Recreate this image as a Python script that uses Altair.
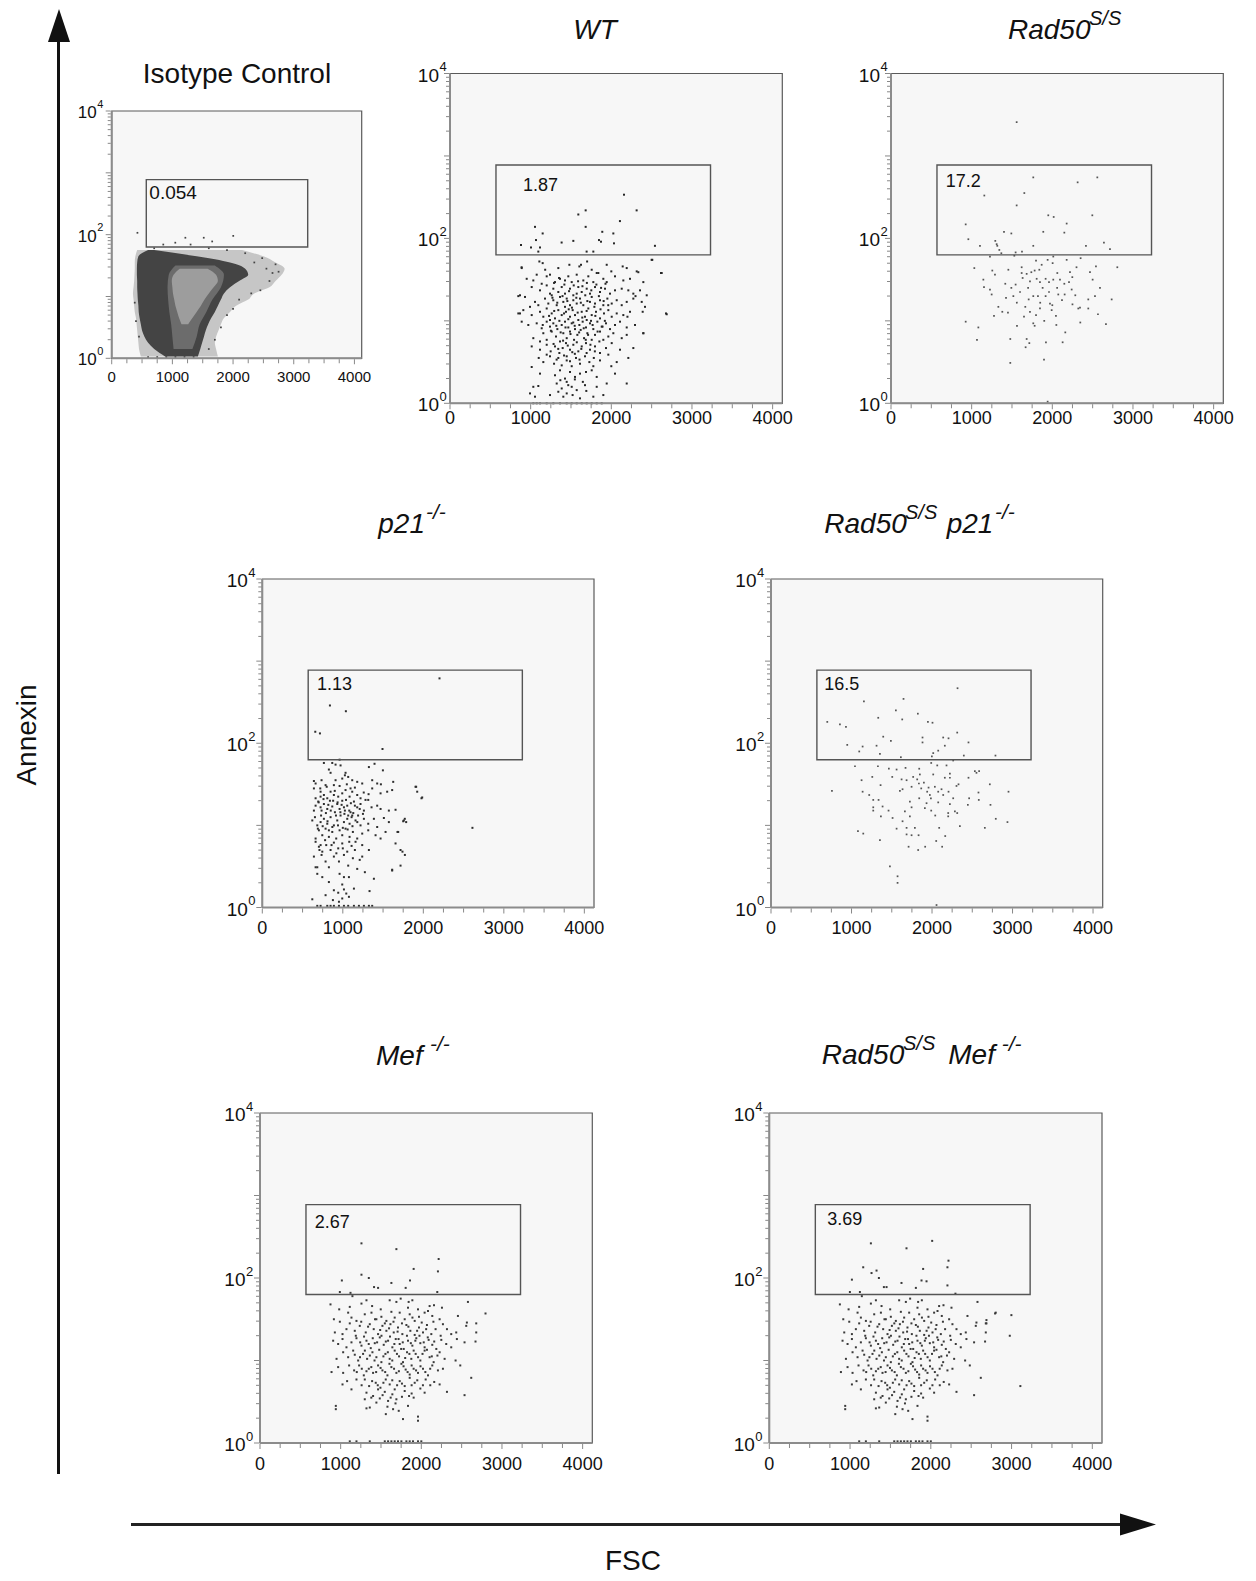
import math
import altair as alt
import pandas as pd

W, H = 1256, 1581
FONT = "Liberation Sans"
XMAX = 4120

# ---------------- axis / tick values ----------------
X_TICKS = [0, 1000, 2000, 3000, 4000]
X_TICK_LABELS = ["0", "1000", "2000", "3000", "4000"]
X_MINOR = [250, 500, 750, 1250, 1500, 1750, 2250, 2500, 2750, 3250, 3500, 3750]
Y_DECADES = [0, 1, 2, 3, 4]
Y_MINOR_VALUES = [k * 10 ** d for d in range(4) for k in range(2, 10)]
Y_LABEL_POS = [0, 2, 4]
Y_LABEL_BASE = ["10", "10", "10"]
Y_LABEL_EXP = ["0", "2", "4"]

# gate (FSC range, log10 Annexin range)
GATE_FSC = [570, 3230]
GATE_LOG = [1.80, 2.89]

# ---------------- texts ----------------
GATE_LABELS = {"iso": "0.054", "wt": "1.87", "r50": "17.2", "p21": "1.13",
               "r50p21": "16.5", "mef": "2.67", "r50mef": "3.69"}
GATE_LABEL_POS = {"iso": (620, 2.67), "wt": (905, 2.63), "r50": (680, 2.68),
                  "p21": (680, 2.71), "r50p21": (661, 2.71), "mef": (680, 2.67),
                  "r50mef": (718, 2.70)}
AXIS_Y_TITLE = "Annexin"
AXIS_X_TITLE = "FSC"

# ---------------- Isotype control density (rows of log10 Annexin) ----------------
ISO_LOG = [0.03, 0.15, 0.25, 0.35, 0.45, 0.55, 0.65, 0.75, 0.85, 0.95, 1.05, 1.15, 1.25, 1.35, 1.45, 1.55, 1.65, 1.75]
ISO_FRINGE_LO = [480, 450, 440, 430, 420, 410, 400, 380, 370, 360, 350, 360, 370, 375, 380, 380, 390, 420]
ISO_FRINGE_HI = [1750, 1720, 1700, 1720, 1760, 1800, 1850, 1950, 2050, 2250, 2350, 2600, 2700, 2800, 2850, 2700, 2500, 2150]
ISO_BODY_LO = [880, 700, 600, 540, 500, 480, 460, 445, 440, 430, 425, 420, 420, 415, 415, 420, 440, 600]
ISO_BODY_HI = [1420, 1460, 1490, 1520, 1550, 1590, 1640, 1700, 1750, 1800, 1850, 1950, 2100, 2250, 2200, 1950, 1400, 700]
ISO_MID_LOG = [0.15, 0.35, 0.55, 0.75, 0.95, 1.15, 1.35, 1.50]
ISO_MID_LO = [1020, 1000, 980, 950, 930, 920, 940, 1050]
ISO_MID_HI = [1330, 1400, 1450, 1560, 1660, 1800, 1850, 1700]
ISO_CORE_LOG = [0.55, 0.65, 0.75, 0.85, 0.95, 1.05, 1.15, 1.25, 1.35, 1.45]
ISO_CORE_LO = [1150, 1110, 1080, 1050, 1030, 1010, 1000, 990, 1020, 1120]
ISO_CORE_HI = [1260, 1330, 1400, 1470, 1530, 1600, 1680, 1750, 1720, 1580]
ISO_PTS = [(424, 2.03), (1214, 1.95), (1517, 1.95), (1656, 1.89), (2003, 1.98), (1048, 1.87),
           (850, 1.84), (1300, 1.84), (2550, 1.45), (2650, 1.38), (2750, 1.40), (2600, 1.25),
           (2450, 1.10), (2700, 1.52), (2300, 1.05), (380, 0.90), (400, 0.60), (450, 0.35),
           (1600, 0.15), (1700, 0.30), (1800, 0.50), (1900, 0.70), (2000, 0.80), (2100, 0.95),
           (600, 0.02), (750, 0.02), (900, 0.02), (1050, 0.02), (1200, 0.02), (1350, 0.02),
           (2350, 1.55), (2480, 1.62), (2200, 1.70), (1900, 1.75), (1600, 1.78), (700, 1.78)]

# ---------------- events (FSC, log10 Annexin) ----------------
WT_PTS = [
    (2157, 2.53), (2314, 2.34), (1682, 2.34), (1591, 2.29), (2107, 2.21), (1682, 2.14), (1054, 2.14),
    (1149, 2.06), (1888, 2.08), (2025, 2.06), (1384, 1.95), (1529, 1.97), (1066, 1.98), (1847, 1.98),
    (1872, 1.96), (880, 1.92), (1004, 1.89), (1116, 1.89), (1095, 1.84), (2033, 1.94), (2541, 1.91),
    (1777, 1.84), (1694, 1.84),
    (2508, 1.74), (2616, 1.58), (2678, 1.09), (2397, 0.85), (847, 1.30), (868, 1.09), (888, 1.65),
    (1108, 1.72), (1149, 1.70), (1343, 1.64), (1604, 1.66), (1624, 1.68), (1757, 1.62), (1819, 1.58),
    (1943, 1.68), (2141, 1.66), (2191, 1.64), (2315, 1.60), (2500, 1.74), (2625, 1.58), (889, 1.64),
    (1033, 1.49), (1075, 1.56), (1199, 1.54), (1240, 1.56), (1302, 1.47), (1364, 1.51), (1426, 1.49),
    (1467, 1.54), (1509, 1.47), (1571, 1.56), (1653, 1.49), (1715, 1.54), (1777, 1.47), (1839, 1.58),
    (1901, 1.51), (1943, 1.47), (2046, 1.54), (2149, 1.49), (2232, 1.51), (2335, 1.59), (2397, 1.47),
    (951, 1.51), (1137, 1.45),
    (868, 1.31), (1013, 1.41), (1116, 1.37), (1199, 1.43), (1240, 1.33), (1281, 1.39), (1343, 1.35),
    (1385, 1.41), (1426, 1.33), (1488, 1.39), (1529, 1.31), (1591, 1.41), (1633, 1.35), (1695, 1.39),
    (1736, 1.33), (1798, 1.41), (1860, 1.35), (1922, 1.39), (1984, 1.33), (2046, 1.37), (2129, 1.39),
    (2211, 1.37), (2273, 1.33), (2356, 1.37), (2439, 1.31), (1261, 1.31), (1571, 1.33),
    (930, 1.29), (1054, 1.23), (1095, 1.19), (1178, 1.27), (1219, 1.21), (1281, 1.25), (1323, 1.19),
    (1364, 1.29), (1405, 1.23), (1447, 1.27), (1488, 1.19), (1529, 1.25), (1571, 1.21), (1612, 1.27),
    (1653, 1.19), (1703, 1.24), (1757, 1.29), (1798, 1.21), (1860, 1.25), (1901, 1.19), (1951, 1.27),
    (2005, 1.21), (2067, 1.25), (2129, 1.19), (2191, 1.23), (2273, 1.27), (2377, 1.23), (2418, 1.17),
    (992, 1.17), (1426, 1.17),
    (847, 1.09), (909, 1.13), (1013, 1.07), (1116, 1.11), (1157, 1.05), (1199, 1.15), (1261, 1.09),
    (1302, 1.03), (1343, 1.13), (1385, 1.07), (1438, 1.11), (1467, 1.02), (1488, 1.05), (1521, 1.13),
    (1550, 1.07), (1591, 1.01), (1633, 1.11), (1674, 1.05), (1715, 1.15), (1757, 1.07), (1810, 1.11),
    (1860, 1.03), (1909, 1.09), (1963, 1.13), (2005, 1.05), (2067, 1.09), (2149, 1.07), (2232, 1.11),
    (2389, 1.11), (2687, 1.08), (1240, 1.01), (1695, 1.01),
    (889, 0.99), (971, 0.95), (1075, 0.97), (1137, 0.91), (1199, 0.99), (1240, 0.93), (1281, 0.97),
    (1331, 0.90), (1385, 0.95), (1426, 0.99), (1467, 0.92), (1509, 0.97), (1550, 0.90), (1604, 0.95),
    (1645, 0.99), (1686, 0.92), (1736, 0.97), (1777, 0.90), (1827, 0.99), (1881, 0.93), (1934, 0.97),
    (1984, 0.90), (2046, 0.95), (2108, 0.99), (2191, 0.92), (2294, 0.95),
    (1033, 0.79), (1157, 0.85), (1199, 0.77), (1261, 0.87), (1314, 0.81), (1364, 0.75), (1405, 0.85),
    (1447, 0.79), (1488, 0.87), (1538, 0.77), (1579, 0.83), (1620, 0.89), (1662, 0.79), (1703, 0.85),
    (1757, 0.77), (1798, 0.83), (1860, 0.87), (1901, 0.77), (1963, 0.81), (2025, 0.85), (2129, 0.79),
    (2191, 0.83), (2273, 0.67), (2397, 0.85), (1116, 0.75),
    (1013, 0.69), (1116, 0.65), (1199, 0.71), (1248, 0.63), (1302, 0.69), (1356, 0.61), (1397, 0.67),
    (1438, 0.73), (1488, 0.65), (1529, 0.71), (1591, 0.63), (1633, 0.69), (1686, 0.73), (1736, 0.65),
    (1798, 0.69), (1860, 0.61), (1934, 0.67), (2005, 0.73), (2108, 0.65), (1199, 0.59), (1447, 0.57),
    (1013, 0.44), (1157, 0.50), (1240, 0.57), (1290, 0.48), (1343, 0.55), (1385, 0.46), (1447, 0.52),
    (1509, 0.45), (1562, 0.55), (1612, 0.48), (1674, 0.57), (1728, 0.50), (1777, 0.45), (1860, 0.52),
    (1963, 0.59), (2067, 0.50), (2211, 0.55),
    (1116, 0.36), (1302, 0.34), (1364, 0.40), (1426, 0.30), (1488, 0.38), (1550, 0.32), (1612, 0.36),
    (1686, 0.38), (1757, 0.40), (1819, 0.32), (2046, 0.36), (2191, 0.24),
    (1033, 0.20), (1095, 0.21), (1323, 0.24), (1343, 0.14), (1385, 0.18), (1447, 0.26), (1509, 0.20),
    (1571, 0.16), (1674, 0.22), (1819, 0.20), (1943, 0.24), (992, 0.12),
    (1054, 0.08), (1240, 0.10), (1405, 0.08), (1447, 0.12), (1612, 0.06), (1777, 0.08), (1901, 0.10),
    (1033, 0.0), (1075, 0.0), (1116, 0.0), (1199, 0.0), (1281, 0.0), (1364, 0.0), (1447, 0.0),
    (1509, 0.0), (1571, 0.0), (1633, 0.0), (1695, 0.0), (1757, 0.0), (1819, 0.0), (1881, 0.0),
]
WT_CORE_PTS = [
    (1290, 1.46), (1352, 1.52), (1418, 1.44), (1476, 1.36), (1534, 1.43), (1588, 1.48), (1642, 1.42),
    (1697, 1.46), (1752, 1.37), (1815, 1.44), (1873, 1.40), (1928, 1.45),
    (1270, 1.28), (1330, 1.22), (1395, 1.30), (1455, 1.24), (1512, 1.16), (1566, 1.28), (1622, 1.22),
    (1677, 1.31), (1735, 1.23), (1790, 1.17), (1846, 1.30), (1905, 1.24), (1962, 1.19),
    (1228, 1.06), (1292, 1.12), (1356, 1.00), (1414, 1.09), (1472, 1.14), (1528, 0.98), (1583, 1.10),
    (1640, 1.04), (1694, 1.12), (1748, 1.00), (1802, 1.06), (1866, 1.14), (1920, 1.00),
    (1251, 0.88), (1318, 0.94), (1372, 0.86), (1432, 0.92), (1494, 0.84), (1546, 0.94), (1601, 0.86),
    (1658, 0.91), (1712, 0.83), (1768, 0.95), (1830, 0.87), (1891, 0.93),
    (1284, 0.72), (1342, 0.66), (1402, 0.76), (1460, 0.70), (1516, 0.62), (1572, 0.74), (1628, 0.66),
    (1683, 0.77), (1741, 0.71), (1796, 0.63), (1852, 0.75),
    (1322, 0.53), (1414, 0.58), (1488, 0.51), (1548, 0.60), (1606, 0.53), (1694, 0.61), (1783, 0.55),
    (1368, 0.28), (1466, 0.22), (1548, 0.29), (1647, 0.26), (1520, 0.10), (1690, 0.15),
    (1180, 1.62), (1480, 1.68), (1700, 1.72), (2000, 1.60), (1150, 0.95), (2200, 1.05), (2300, 1.30),
    (1100, 0.55), (2000, 0.45),
]

RAD50_PTS = [
    (1558, 3.41), (1764, 2.74), (2558, 2.74), (2314, 2.68), (1157, 2.52), (1653, 2.55), (1558, 2.40),
    (1950, 2.28), (2017, 2.26), (2496, 2.28), (926, 2.17), (2178, 2.18), (1888, 2.08), (2149, 2.07),
    (1401, 2.08), (1492, 2.06), (959, 1.99), (1103, 1.91), (1318, 1.91), (1343, 1.86), (1368, 1.82),
    (1545, 1.83), (1624, 1.84), (1764, 1.91), (2417, 1.91), (2640, 1.95), (2715, 1.87), (1293, 1.97),
    (1310, 1.93),
    (1227, 1.78), (1529, 1.79), (2012, 1.78), (1942, 1.74), (2004, 1.70), (2178, 1.74), (2351, 1.76),
    (1798, 1.73), (1033, 1.64), (1256, 1.61), (1289, 1.56), (1455, 1.62), (1145, 1.50), (1153, 1.41),
    (1227, 1.38), (1248, 1.32), (1417, 1.45), (1492, 1.40), (1545, 1.44), (1517, 1.30), (1426, 1.28),
    (1620, 1.58), (1632, 1.52), (1682, 1.57), (1740, 1.59), (1781, 1.61), (1839, 1.62), (1868, 1.68),
    (1723, 1.48), (1806, 1.51), (1847, 1.47), (1917, 1.51), (1959, 1.47), (2012, 1.50), (2062, 1.58),
    (2095, 1.50), (2149, 1.45), (2219, 1.59), (2248, 1.53), (2207, 1.47), (2240, 1.38), (2285, 1.31),
    (2153, 1.32), (2074, 1.32), (1959, 1.35), (1917, 1.30), (1971, 1.21), (2000, 1.19), (1992, 1.13),
    (2045, 1.06), (1822, 1.30), (1764, 1.30), (1707, 1.26), (1665, 1.17), (1649, 1.05), (1723, 1.11),
    (1798, 1.07), (1847, 1.15), (1331, 1.17), (1380, 1.11), (1277, 1.06), (1562, 0.94), (926, 0.99),
    (1083, 0.92), (1066, 0.77), (1479, 0.78), (1682, 0.78), (1715, 0.73), (1669, 0.68), (1764, 0.97),
    (1781, 0.94), (1921, 0.74), (2128, 0.74), (2161, 0.86), (2347, 0.98), (2343, 1.16), (2322, 1.15),
    (2446, 1.15), (2446, 1.26), (2529, 1.30), (2566, 1.08), (2736, 1.26), (2665, 0.96), (2591, 1.40),
    (2500, 1.50), (2467, 1.59), (2541, 1.66), (2806, 1.65), (1897, 0.53), (1479, 0.49), (1942, 0.02),
    (1600, 1.35), (1700, 1.40), (1880, 1.40), (2060, 1.40), (1850, 1.22), (1560, 1.22), (2120, 1.25),
    (2250, 1.20), (1450, 1.10), (1900, 1.00), (2050, 0.95), (1620, 1.65), (2300, 1.65),
]

P21_PTS = [
    (2201, 2.79), (840, 2.46), (1038, 2.39), (658, 2.14), (716, 2.12), (1493, 1.93), (960, 1.80),
    (2610, 0.97), (1986, 1.34), (1903, 1.47), (1750, 1.05), (1770, 1.08), (1717, 0.51), (1613, 0.46),
    (1741, 0.68), (1679, 0.92),
    (765, 1.76), (869, 1.76), (910, 1.74), (972, 1.73), (827, 1.68), (848, 1.64), (1034, 1.64),
    (1324, 1.71), (1394, 1.75), (1498, 1.67),
    (641, 1.54), (662, 1.51), (736, 1.55), (910, 1.55), (993, 1.57), (1026, 1.61), (1067, 1.59),
    (1117, 1.55), (1179, 1.53), (1241, 1.51), (1365, 1.55), (1427, 1.51), (1473, 1.50), (1626, 1.53),
    (1096, 1.45), (889, 1.49), (786, 1.49),
    (641, 1.45), (724, 1.41), (765, 1.37), (807, 1.33), (848, 1.41), (889, 1.37), (943, 1.35),
    (993, 1.39), (1034, 1.43), (1084, 1.35), (1117, 1.41), (1179, 1.37), (1220, 1.33), (1282, 1.31),
    (662, 1.33), (724, 1.35), (1469, 1.39), (1551, 1.41), (1613, 1.43), (1911, 1.47), (1924, 1.41),
    (1977, 1.33), (1365, 1.45),
    (641, 1.18), (662, 1.24), (695, 1.29), (736, 1.18), (765, 1.26), (807, 1.20), (840, 1.30),
    (869, 1.23), (902, 1.16), (931, 1.26), (960, 1.20), (993, 1.30), (1026, 1.18), (1055, 1.24),
    (1096, 1.16), (1138, 1.29), (1179, 1.22), (1220, 1.26), (1262, 1.18), (1316, 1.31), (1357, 1.22),
    (1427, 1.24), (1469, 1.20), (1572, 1.18), (1655, 1.19), (724, 1.22), (1014, 1.22), (1067, 1.12),
    (1109, 1.10),
    (621, 1.06), (654, 1.10), (683, 1.00), (724, 1.04), (765, 1.08), (807, 1.02), (848, 1.10),
    (889, 1.00), (931, 1.06), (972, 1.12), (1014, 1.04), (1055, 1.08), (1084, 1.02), (1117, 1.12),
    (1158, 1.06), (1220, 1.00), (1262, 1.08), (1316, 1.02), (1386, 1.08), (1510, 1.09), (1572, 1.04),
    (1758, 1.06), (1787, 1.04), (1427, 0.98),
    (662, 0.84), (703, 0.94), (745, 0.88), (786, 0.96), (827, 0.86), (869, 0.92), (918, 0.84),
    (960, 0.94), (993, 0.88), (1034, 0.96), (1084, 0.86), (1125, 0.92), (1179, 0.84), (1241, 0.90),
    (1316, 0.94), (1407, 0.88), (1469, 0.84), (1531, 0.92), (1688, 0.92), (827, 0.94),
    (662, 0.80), (703, 0.74), (745, 0.68), (794, 0.76), (848, 0.70), (889, 0.79), (943, 0.72),
    (993, 0.78), (1055, 0.68), (1109, 0.75), (1158, 0.80), (1241, 0.76), (1324, 0.70), (1655, 0.78),
    (1717, 0.70), (724, 0.76),
    (641, 0.62), (683, 0.49), (736, 0.64), (786, 0.56), (827, 0.49), (889, 0.62), (952, 0.56),
    (1014, 0.64), (1067, 0.51), (1125, 0.60), (1179, 0.47), (1241, 0.62), (1613, 0.45), (1771, 0.64),
    (662, 0.49),
    (683, 0.41), (745, 0.37), (827, 0.31), (960, 0.41), (1014, 0.37), (993, 0.28), (1076, 0.37),
    (1274, 0.43), (1386, 0.35),
    (889, 0.21), (943, 0.18), (1014, 0.22), (1043, 0.17), (1076, 0.13), (993, 0.11), (1138, 0.23),
    (786, 0.15), (621, 0.10), (1332, 0.20), (877, 0.09), (952, 0.07),
    (683, 0.02), (724, 0.02), (807, 0.02), (848, 0.02), (889, 0.02), (952, 0.02), (1014, 0.02),
    (1067, 0.02), (1138, 0.02), (1200, 0.02), (1262, 0.02), (1324, 0.02), (1365, 0.02),
]
P21_CORE_PTS = [
    (700, 1.28), (760, 1.32), (820, 1.25), (880, 1.30), (935, 1.28), (985, 1.25), (1040, 1.31),
    (1100, 1.27), (1150, 1.24), (1210, 1.20),
    (730, 1.12), (790, 1.15), (850, 1.18), (915, 1.12), (970, 1.16), (1020, 1.14), (1080, 1.18),
    (1130, 1.15), (1190, 1.12), (1250, 1.14),
    (690, 0.96), (750, 0.99), (810, 1.05), (870, 0.98), (940, 1.00), (1000, 0.97), (1060, 0.95),
    (1120, 0.99), (1180, 1.04),
    (710, 0.70), (780, 0.82), (860, 0.76), (920, 0.66), (1000, 0.72), (1080, 0.80), (1150, 0.70),
    (1210, 0.58),
    (720, 1.45), (800, 1.47), (900, 1.42), (960, 1.48), (1050, 1.50), (1150, 1.46), (1260, 1.40),
    (1320, 1.38),
]

RAD50_P21_PTS = [
    (2317, 2.67), (1646, 2.54), (1154, 2.51), (1551, 2.40), (1824, 2.36), (1332, 2.31), (1630, 2.29),
    (699, 2.26), (1949, 2.26), (2006, 2.25), (856, 2.23), (931, 2.20), (2313, 2.13), (1394, 2.08),
    (1489, 2.03), (1882, 2.07), (1882, 2.01), (2139, 2.07), (2205, 2.06), (2159, 1.97), (2453, 2.01),
    (947, 1.98), (1138, 1.96), (1096, 1.90), (1311, 1.97), (1353, 1.87), (1613, 1.83), (2015, 1.88),
    (1998, 1.84), (2077, 1.91), (2395, 1.85), (2788, 1.85),
    (2263, 1.79), (1990, 1.76), (2065, 1.73), (2180, 1.73), (1043, 1.72), (1328, 1.72), (1671, 1.70),
    (1841, 1.69), (1464, 1.69), (1560, 1.68), (2552, 1.64), (2585, 1.66), (2532, 1.66), (2453, 1.58),
    (2329, 1.50), (2222, 1.63), (2159, 1.58), (2015, 1.62), (1849, 1.62), (1766, 1.59), (1684, 1.55),
    (1622, 1.56), (1506, 1.59), (1361, 1.49), (1258, 1.59), (1125, 1.55), (1138, 1.41), (757, 1.42),
    (1220, 1.37), (1270, 1.31), (1270, 1.22), (1270, 1.18), (1336, 1.31), (1386, 1.23), (1460, 1.18),
    (1365, 1.11), (1510, 1.09), (1601, 1.42), (1634, 1.44), (1746, 1.47), (1837, 1.51), (1866, 1.45),
    (1899, 1.52), (1957, 1.46), (1940, 1.41), (1973, 1.37), (1986, 1.33), (2035, 1.47), (2077, 1.41),
    (2118, 1.44), (2139, 1.37), (2205, 1.41), (2263, 1.33), (2222, 1.26), (2077, 1.28), (1932, 1.27),
    (1725, 1.29), (1746, 1.22), (1663, 1.17), (1725, 1.11), (1634, 1.05), (1787, 0.97), (1684, 0.97),
    (1746, 0.88), (1684, 0.89), (1833, 0.88), (1915, 0.74), (1828, 0.70), (1709, 0.74), (2052, 0.81),
    (2164, 0.87), (2089, 0.97), (2040, 1.12), (1990, 1.18), (2201, 1.15), (2201, 1.11), (2284, 1.17),
    (2313, 1.15), (2346, 0.99), (2445, 1.25), (2461, 1.33), (2577, 1.40), (2718, 1.50), (2726, 1.25),
    (2792, 1.08), (2656, 0.97), (2937, 1.04), (2950, 1.41), (2581, 1.31), (1353, 0.82), (1080, 0.93),
    (1146, 0.90), (1477, 0.50), (1572, 0.38), (1572, 0.30), (2056, 0.03), (2126, 0.74), (1560, 0.96),
    (1911, 1.21), (1841, 1.33), (2222, 1.58), (2304, 1.48), (1816, 1.56),
]

MEF_GATE_PTS = [
    (1258, 2.42), (1691, 2.35), (2215, 2.23), (1905, 2.11), (1258, 2.04), (2206, 2.08), (1349, 2.00),
    (1015, 1.97), (1629, 1.94), (1860, 1.97), (1464, 1.88), (1414, 1.89), (1806, 1.88), (990, 1.83),
    (1122, 1.82), (2198, 1.83),
]

MEF_CLOUD_PTS = [
    (1146, 1.78), (1320, 1.73), (1390, 1.66), (1608, 1.73), (1691, 1.71), (1744, 1.75), (1843, 1.71),
    (1889, 1.73), (1835, 1.64), (1959, 1.62), (2103, 1.66), (2157, 1.67), (2256, 1.64), (874, 1.68),
    (982, 1.62), (1113, 1.65), (1258, 1.69), (2578, 1.71), (1497, 1.62),
    (1093, 1.58), (1134, 1.52), (1196, 1.48), (1299, 1.56), (1382, 1.58), (1443, 1.50), (1505, 1.53),
    (1567, 1.48), (1629, 1.59), (1670, 1.52), (1732, 1.58), (1794, 1.50), (1856, 1.56), (1918, 1.48),
    (1971, 1.53), (2041, 1.58), (2083, 1.60), (2136, 1.54), (2227, 1.50), (2454, 1.54), (2796, 1.57),
    (2565, 1.46), (2681, 1.45), (916, 1.50), (990, 1.47),
    (928, 1.34), (1023, 1.32), (1072, 1.38), (1113, 1.45), (1175, 1.36), (1237, 1.42), (1311, 1.34),
    (1361, 1.44), (1410, 1.38), (1464, 1.32), (1518, 1.42), (1567, 1.36), (1617, 1.44), (1658, 1.34),
    (1711, 1.40), (1765, 1.32), (1815, 1.43), (1864, 1.36), (1918, 1.31), (1971, 1.40), (2021, 1.34),
    (2070, 1.43), (2124, 1.32), (2177, 1.38), (2268, 1.44), (2318, 1.38), (2371, 1.32), (2433, 1.34),
    (2557, 1.42), (2681, 1.34),
    (907, 1.24), (969, 1.20), (1023, 1.26), (1072, 1.16), (1134, 1.22), (1196, 1.27), (1258, 1.18),
    (1320, 1.24), (1373, 1.15), (1423, 1.21), (1485, 1.28), (1534, 1.19), (1588, 1.24), (1641, 1.16),
    (1683, 1.26), (1732, 1.20), (1782, 1.14), (1835, 1.24), (1889, 1.18), (1938, 1.27), (1988, 1.21),
    (2041, 1.16), (2091, 1.25), (2136, 1.19), (2186, 1.14), (2248, 1.25), (2309, 1.20), (2371, 1.16),
    (2441, 1.26), (2536, 1.22), (2672, 1.23),
    (949, 1.02), (1031, 1.10), (1093, 1.04), (1155, 1.12), (1217, 1.00), (1278, 1.08), (1328, 1.02),
    (1394, 1.10), (1443, 1.04), (1505, 0.98), (1555, 1.08), (1608, 1.02), (1670, 1.12), (1724, 1.05),
    (1773, 0.98), (1823, 1.10), (1876, 1.02), (1930, 1.08), (1988, 1.00), (2041, 1.12), (2103, 1.04),
    (2153, 0.98), (2227, 1.10), (2289, 1.02), (2425, 1.00), (2483, 0.94),
    (887, 0.86), (969, 0.92), (1031, 0.85), (1105, 0.94), (1167, 0.88), (1229, 0.94), (1287, 0.82),
    (1349, 0.90), (1402, 0.85), (1464, 0.94), (1518, 0.88), (1580, 0.82), (1629, 0.92), (1691, 0.85),
    (1753, 0.96), (1806, 0.89), (1856, 0.83), (1905, 0.90), (1959, 0.85), (2021, 0.90), (2083, 0.82),
    (2136, 0.94), (2206, 0.88), (2268, 0.90),
    (1023, 0.71), (1080, 0.75), (1196, 0.77), (1299, 0.77), (1353, 0.69), (1435, 0.73), (1493, 0.67),
    (1559, 0.77), (1608, 0.71), (1670, 0.65), (1732, 0.75), (1794, 0.69), (1856, 0.79), (1918, 0.73),
    (1988, 0.66), (2054, 0.77), (2111, 0.70), (2227, 0.71), (2619, 0.79), (1134, 0.65),
    (1320, 0.61), (1402, 0.57), (1485, 0.54), (1547, 0.62), (1588, 0.51), (1641, 0.59), (1691, 0.53),
    (1794, 0.63), (1848, 0.57), (1905, 0.55), (2041, 0.61), (2318, 0.62), (2536, 0.58), (1464, 0.65),
    (940, 0.45), (940, 0.41), (1299, 0.53), (1320, 0.42), (1361, 0.43), (1443, 0.49), (1580, 0.44),
    (1650, 0.41), (1720, 0.39), (1835, 0.45), (1773, 0.29), (1959, 0.32), (1959, 0.27),
    (1113, 0.02), (1196, 0.02), (1361, 0.02), (1547, 0.02), (1588, 0.02), (1629, 0.02), (1670, 0.02),
    (1711, 0.02), (1753, 0.02), (1815, 0.02), (1856, 0.02), (1897, 0.02), (1959, 0.02), (2000, 0.02),
]
MEF_CORE_PTS = [
    (1255, 1.47), (1340, 1.41), (1426, 1.50), (1490, 1.37), (1548, 1.45), (1600, 1.39), (1655, 1.47),
    (1706, 1.35), (1760, 1.45), (1840, 1.41), (1890, 1.52), (1948, 1.36), (2005, 1.46), (2060, 1.38),
    (2150, 1.47),
    (1188, 1.30), (1242, 1.22), (1290, 1.29), (1348, 1.20), (1398, 1.27), (1452, 1.22), (1506, 1.30),
    (1560, 1.23), (1612, 1.29), (1666, 1.20), (1718, 1.26), (1770, 1.22), (1822, 1.30), (1870, 1.21),
    (1926, 1.24), (1977, 1.30), (2030, 1.22), (2080, 1.28), (2160, 1.23), (2240, 1.30),
    (1175, 1.07), (1240, 1.04), (1300, 1.12), (1362, 1.06), (1420, 1.00), (1478, 1.13), (1530, 1.05),
    (1585, 1.10), (1640, 1.00), (1698, 1.08), (1750, 1.14), (1800, 1.03), (1852, 1.08), (1905, 1.12),
    (1960, 1.04), (2015, 1.08), (2070, 1.13), (2130, 1.05), (2200, 1.06),
    (1200, 0.86), (1262, 0.90), (1320, 0.87), (1380, 0.92), (1440, 0.86), (1495, 0.91), (1552, 0.86),
    (1605, 0.96), (1662, 0.90), (1722, 0.87), (1780, 0.93), (1830, 0.86), (1880, 0.94), (1935, 0.88),
    (1990, 0.93), (2050, 0.86), (2110, 0.90),
    (1260, 0.70), (1390, 0.75), (1460, 0.70), (1530, 0.73), (1640, 0.76), (1700, 0.70), (1760, 0.72),
    (1880, 0.70), (1950, 0.76), (2020, 0.70), (2160, 0.74),
    (1380, 0.55), (1520, 0.58), (1620, 0.55), (1760, 0.56), (1880, 0.60), (1560, 0.35), (1680, 0.48),
]

RAD50_MEF_GATE_PTS = [
    (1258, 2.42), (1699, 2.36), (2017, 2.45), (2219, 2.21), (2206, 2.13), (1163, 2.13), (1266, 2.06),
    (1328, 2.09), (1905, 2.11), (1357, 2.00), (1023, 1.98), (1637, 1.94), (1885, 1.97), (1947, 1.96),
    (1815, 1.88), (1419, 1.89), (1452, 1.89), (2206, 1.91), (998, 1.83), (1122, 1.83), (2305, 1.81),
]
RAD50_MEF_EXTRA_PTS = [(2998, 1.55), (2978, 1.30), (3109, 0.69), (2804, 1.58), (2689, 1.49), (2689, 1.45)]

# ---------------- layout (pixel boxes of the plot frames) ----------------
BOX = {
    "iso": (111.7, 361.7, 111, 358.3),
    "wt": (450, 782.3, 73.5, 403.3),
    "r50": (891, 1223.3, 73.5, 403.3),
    "p21": (262.3, 594, 579, 907.5),
    "r50p21": (771, 1102.7, 579, 907.5),
    "mef": (260, 592.3, 1113, 1443),
    "r50mef": (769.3, 1102, 1113, 1443),
}


def pts_df(pts):
    return pd.DataFrame(pts, columns=["fsc", "la"])


def panel(key, pts, dot_color, dot_size, tick_fs, tick_dy, ylab_fs, ylab_gap, label_fs, iso=False):
    x0, x1, y0, y1 = BOX[key]
    xs = alt.Scale(domain=[0, XMAX], range=[x0, x1], nice=False, zero=False)
    ys = alt.Scale(domain=[0, 4], range=[y1, y0], nice=False, zero=False)

    def X(f):
        return alt.X(f, scale=xs, axis=None)

    def Y(f):
        return alt.Y(f, scale=ys, axis=None)

    layers = []
    frame_df = pd.DataFrame({"a": [0], "b": [XMAX], "c": [0], "d": [4]})
    layers.append(alt.Chart(frame_df).mark_rect(fill="#f7f7f7", stroke="#5a5a5a", strokeWidth=1.2).encode(
        x=X("a:Q"), x2="b:Q", y=Y("c:Q"), y2="d:Q"))

    if iso:
        rows = pd.DataFrame({"y": ISO_LOG, "flo": ISO_FRINGE_LO, "fhi": ISO_FRINGE_HI,
                             "blo": ISO_BODY_LO, "bhi": ISO_BODY_HI})
        mid = pd.DataFrame({"y": ISO_MID_LOG, "mlo": ISO_MID_LO, "mhi": ISO_MID_HI})
        core = pd.DataFrame({"y": ISO_CORE_LOG, "clo": ISO_CORE_LO, "chi": ISO_CORE_HI})
        layers.append(alt.Chart(rows).mark_area(orient="horizontal", color="#c6c6c6", interpolate="monotone").encode(
            y=Y("y:Q"), x=X("flo:Q"), x2="fhi:Q"))
        layers.append(alt.Chart(rows).mark_area(orient="horizontal", color="#444444", interpolate="monotone").encode(
            y=Y("y:Q"), x=X("blo:Q"), x2="bhi:Q"))
        layers.append(alt.Chart(mid).mark_area(orient="horizontal", color="#6c6c6c", interpolate="monotone").encode(
            y=Y("y:Q"), x=X("mlo:Q"), x2="mhi:Q"))
        layers.append(alt.Chart(core).mark_area(orient="horizontal", color="#9d9d9d", interpolate="monotone").encode(
            y=Y("y:Q"), x=X("clo:Q"), x2="chi:Q"))

    layers.append(alt.Chart(pts_df(pts)).mark_square(size=dot_size, color=dot_color, opacity=1).encode(
        x=X("fsc:Q"), y=Y("la:Q")))

    gate_df = pd.DataFrame({"a": [GATE_FSC[0]], "b": [GATE_FSC[1]], "c": [GATE_LOG[0]], "d": [GATE_LOG[1]]})
    layers.append(alt.Chart(gate_df).mark_rect(fillOpacity=0, fill="white", stroke="#555", strokeWidth=1.4).encode(
        x=X("a:Q"), x2="b:Q", y=Y("c:Q"), y2="d:Q"))

    lx, ly = GATE_LABEL_POS[key]
    lab_df = pd.DataFrame({"x": [lx], "y": [ly], "t": [GATE_LABELS[key]]})
    layers.append(alt.Chart(lab_df).mark_text(align="left", baseline="middle", fontSize=label_fs,
                                              font=FONT, color="#111").encode(
        x=X("x:Q"), y=Y("y:Q"), text="t:N"))

    # axis lines (left & bottom)
    ax_df = pd.DataFrame({"a": [0], "b": [XMAX], "c": [0], "d": [4]})
    layers.append(alt.Chart(ax_df).mark_rule(color="#8c8c8c", strokeWidth=2).encode(
        x=X("a:Q"), y=Y("c:Q"), y2="d:Q"))
    layers.append(alt.Chart(ax_df).mark_rule(color="#8c8c8c", strokeWidth=2).encode(
        x=X("a:Q"), x2="b:Q", y=Y("c:Q")))

    # x ticks
    mx = pd.DataFrame({"v": X_MINOR, "z": [0] * len(X_MINOR)})
    layers.append(alt.Chart(mx).mark_tick(orient="vertical", size=4, thickness=1, color="#555", yOffset=3).encode(
        x=X("v:Q"), y=Y("z:Q")))
    jx = pd.DataFrame({"v": X_TICKS, "z": [0] * len(X_TICKS), "t": X_TICK_LABELS})
    layers.append(alt.Chart(jx).mark_tick(orient="vertical", size=5, thickness=1, color="#555", yOffset=3.5).encode(
        x=X("v:Q"), y=Y("z:Q")))
    layers.append(alt.Chart(jx).mark_text(align="center", baseline="top", dy=tick_dy, fontSize=tick_fs,
                                          font=FONT, color="#111").encode(
        x=X("v:Q"), y=Y("z:Q"), text="t:N"))

    # y ticks
    my = pd.DataFrame({"v": [math.log10(v) for v in Y_MINOR_VALUES], "z": [0] * len(Y_MINOR_VALUES)})
    layers.append(alt.Chart(my).mark_tick(orient="horizontal", size=3, thickness=1, color="#555", xOffset=-2.5).encode(
        x=X("z:Q"), y=Y("v:Q")))
    jy = pd.DataFrame({"v": Y_DECADES, "z": [0] * len(Y_DECADES)})
    layers.append(alt.Chart(jy).mark_tick(orient="horizontal", size=5, thickness=1, color="#555", xOffset=-3.5).encode(
        x=X("z:Q"), y=Y("v:Q")))

    yl = pd.DataFrame({"v": Y_LABEL_POS, "z": [0, 0, 0], "b": Y_LABEL_BASE, "e": Y_LABEL_EXP})
    layers.append(alt.Chart(yl).mark_text(align="right", baseline="middle", dx=-ylab_gap, dy=2,
                                          fontSize=ylab_fs, font=FONT, color="#111").encode(
        x=X("z:Q"), y=Y("v:Q"), text="b:N"))
    layers.append(alt.Chart(yl).mark_text(align="left", baseline="middle", dx=-ylab_gap + 0.5, dy=-6.5,
                                          fontSize=round(ylab_fs * 0.66), font=FONT, color="#111").encode(
        x=X("z:Q"), y=Y("v:Q"), text="e:N"))
    return alt.layer(*layers)


def txt(s, x, y, size, italic=False, align="left", angle=0, baseline="alphabetic"):
    kw = dict(align=align, baseline=baseline, fontSize=size, font=FONT, color="#111")
    if italic:
        kw["fontStyle"] = "italic"
    if angle:
        kw["angle"] = angle
    return alt.Chart(pd.DataFrame({"t": [s]})).mark_text(**kw).encode(
        x=alt.value(x), y=alt.value(y), text="t:N")


one = pd.DataFrame({"k": [0]})

panels = [
    panel("iso", ISO_PTS, "#444", 3, 15, 12, 17, 15, 19, iso=True),
    panel("wt", WT_PTS + WT_CORE_PTS, "#262626", 4, 18, 6.7, 19, 11, 18),
    panel("r50", RAD50_PTS, "#555", 3, 18, 6.7, 19, 11, 18),
    panel("p21", P21_PTS + P21_CORE_PTS, "#2e2e2e", 4, 18, 12.5, 19, 14.5, 18),
    panel("r50p21", RAD50_P21_PTS, "#555", 3, 18, 12.5, 19, 14.5, 18),
    panel("mef", MEF_GATE_PTS + MEF_CLOUD_PTS + MEF_CORE_PTS, "#3a3a3a", 4, 18, 13, 19, 14.5, 18),
    panel("r50mef", RAD50_MEF_GATE_PTS + MEF_CLOUD_PTS + MEF_CORE_PTS + RAD50_MEF_EXTRA_PTS,
          "#3a3a3a", 4, 18, 13, 19, 14.5, 18),
]

annot = [
    # panel titles
    txt("Isotype Control", 237, 83, 28, align="center"),
    txt("WT", 595, 38.5, 28, italic=True, align="center"),
    txt("Rad50", 1008, 38.5, 28, italic=True),
    txt("S/S", 1089, 24.5, 20, italic=True),
    txt("p21", 378.3, 532.7, 28, italic=True),
    txt("-/-", 426, 519, 21, italic=True),
    txt("Rad50", 824.3, 532.7, 28, italic=True),
    txt("S/S", 905, 518.5, 20, italic=True),
    txt("p21", 946.7, 532.7, 28, italic=True),
    txt("-/-", 995, 519, 21, italic=True),
    txt("Mef", 376, 1065, 28, italic=True),
    txt("-/-", 430, 1051, 21, italic=True),
    txt("Rad50", 821.7, 1064.3, 28, italic=True),
    txt("S/S", 903, 1050, 20, italic=True),
    txt("Mef", 948.3, 1064.3, 28, italic=True),
    txt("-/-", 1001.7, 1050.5, 21, italic=True),
    # global axis titles
    txt(AXIS_Y_TITLE, 28, 735, 28, align="center", angle=270, baseline="middle"),
    txt(AXIS_X_TITLE, 633, 1562, 28, align="center", baseline="middle"),
    # arrows
    alt.Chart(one).mark_rule(color="#111", strokeWidth=3).encode(
        x=alt.value(58.5), y=alt.value(38), y2=alt.value(1474)),
    alt.Chart(one).mark_point(shape="M -0.667 1 L 0 -1 L 0.667 1 Z", filled=True, color="#111",
                              size=1089, opacity=1).encode(x=alt.value(59), y=alt.value(25.5)),
    alt.Chart(one).mark_rule(color="#222", strokeWidth=3).encode(
        x=alt.value(131), x2=alt.value(1124), y=alt.value(1524.5)),
    alt.Chart(one).mark_point(shape="M -1 -0.611 L 1 0 L -1 0.611 Z", filled=True, color="#111",
                              size=1296, opacity=1).encode(x=alt.value(1138), y=alt.value(1524.5)),
]

chart = alt.layer(*(panels + annot)).resolve_scale(
    x="independent", y="independent"
).properties(
    width=W, height=H, autosize=alt.AutoSizeParams(type="none"), padding=0, background="white"
).configure_view(strokeWidth=0)

chart.save("out.html", embed_options={"renderer": "svg", "actions": False})
